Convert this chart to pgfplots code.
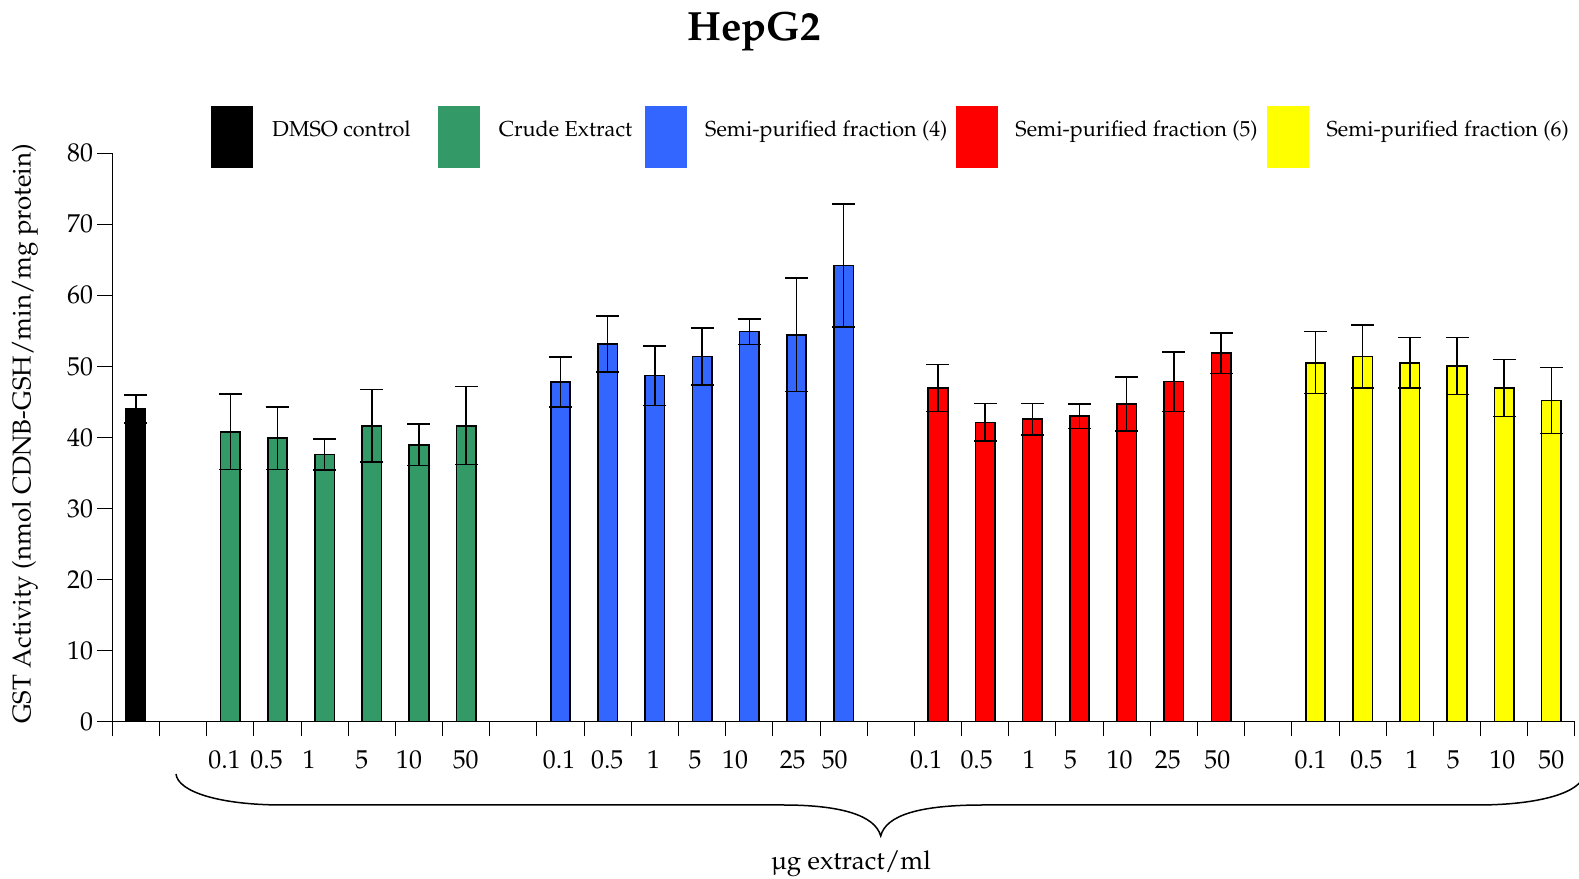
\documentclass[border=0pt]{standalone}
\usepackage[T1]{fontenc}
\usepackage{mathpazo}
\usepackage{textcomp}
\usepackage{pgfplots}
\pgfplotsset{compat=1.18}
\definecolor{cgreen}{RGB}{51,153,102}
\definecolor{cblue}{RGB}{51,102,255}
\definecolor{cred}{RGB}{255,0,0}
\definecolor{cyellow}{RGB}{255,255,0}
\pgfplotsset{mybar/.style={ybar, bar width=11.7pt, bar shift=0pt, draw=black, line width=1pt, fill=#1,
  error bars/.cd, y dir=both, y explicit,
  error bar style={black, line width=0.9pt},
  error mark options={rotate=90, black, line width=0.9pt, mark size=6.9pt}}}
\begin{document}
\begin{tikzpicture}
\begin{axis}[
  at={(0pt,0pt)}, anchor=south west,
  scale only axis, width=877.6pt, height=340.9pt,
  xmin=-0.5, xmax=30.5, ymin=0, ymax=80,
  axis lines*=left,
  axis line style={line width=0.6pt},
  clip=false,
  tick align=outside,
  major tick length=0pt, minor tick length=9pt,
  tick style={black, line width=0.6pt},
  xtick={1.88,2.77,3.67,4.79,5.79,6.99,8.97,9.99,10.97,11.85,12.70,13.92,14.81,16.75,17.82,18.93,19.81,20.85,21.87,22.92,24.90,26.08,27.05,27.92,28.96,30.00},
  xticklabels={0.1,0.5,1,5,10,50,0.1,0.5,1,5,10,25,50,0.1,0.5,1,5,10,25,50,0.1,0.5,1,5,10,50},
  minor xtick={-0.5,0.5,...,30.5},
  ytick={0,10,...,80}, minor ytick={0,10,...,80},
  tick label style={font=\fontsize{15.5}{18}\selectfont},
  xticklabel style={anchor=north, yshift=-13.8pt},
  yticklabel style={anchor=east, xshift=-8pt},
]
\addplot[mybar=black] coordinates {(0,44.0) +- (0,2.0)};
\addplot[mybar=cgreen] coordinates {
 (2,40.8) +- (0,5.3) (3,39.9) +- (0,4.4) (4,37.6) +- (0,2.2)
 (5,41.65) +- (0,5.1) (6,38.97) +- (0,2.9) (7,41.65) +- (0,5.5)};
\addplot[mybar=cblue] coordinates {
 (9,47.8) +- (0,3.55) (10,53.15) +- (0,3.95) (11,48.7) +- (0,4.2)
 (12,51.4) +- (0,4.0) (13,54.9) +- (0,1.8) (14,54.45) +- (0,8.0) (15,64.2) +- (0,8.65)};
\addplot[mybar=cred] coordinates {
 (17,46.96) +- (0,3.33) (18,42.12) +- (0,2.65) (19,42.55) +- (0,2.2)
 (20,42.97) +- (0,1.73) (21,44.7) +- (0,3.8) (22,47.85) +- (0,4.2) (23,51.84) +- (0,2.85)};
\addplot[mybar=cyellow] coordinates {
 (25,50.52) +- (0,4.37) (26,51.37) +- (0,4.43) (27,50.52) +- (0,3.57)
 (28,50.05) +- (0,3.99) (29,46.96) +- (0,3.99) (30,45.22) +- (0,4.65)};
\end{axis}
\begin{scope}[x=0.6pt, y=-0.6pt, shift={(-67.38pt,432.9pt)}]
 % title
 \node[anchor=base, font=\fontsize{24.5}{28}\selectfont\bfseries] at (754,41) {HepG2};
 % y label
 \node[rotate=90, font=\fontsize{15.5}{18}\selectfont] at (25,434) {GST Activity (nmol CDNB-GSH/min/mg protein)};
 % legend
 \fill[black]   (210.5,105.7) rectangle (252.8,168.2);
 \fill[cgreen]  (438.0,105.7) rectangle (480.3,168.2);
 \fill[cblue]   (644.5,105.7) rectangle (686.8,168.2);
 \fill[cred]    (955.6,105.7) rectangle (997.9,168.2);
 \fill[cyellow] (1266.8,105.7) rectangle (1309.1,168.2);
 \begin{scope}[every node/.style={anchor=base west, inner sep=0pt, font=\fontsize{13}{15}\selectfont}]
  \node at (271.9,137) {DMSO control};
  \node at (498.5,137) {Crude Extract};
  \node at (704.9,137) {Semi-purified fraction (4)};
  \node at (1015.1,137) {Semi-purified fraction (5)};
  \node at (1326.2,137) {Semi-purified fraction (6)};
 \end{scope}
 % brace
 \draw[line width=0.9pt] (176,774) .. controls (178,792) and (220,805) .. (283,805)
   -- (783,805) .. controls (840,805) and (875,815) .. (880.7,836)
   .. controls (886,815) and (920,805) .. (983,805)
   -- (1477,805) .. controls (1541,805) and (1582,792) .. (1584,774);
 \node[anchor=base, font=\fontsize{15.5}{18}\selectfont] at (851,870) {\textmu g extract/ml};
 \pgfresetboundingbox
 \useasboundingbox (0,0) rectangle (1579,879);
\end{scope}
\end{tikzpicture}
\end{document}
